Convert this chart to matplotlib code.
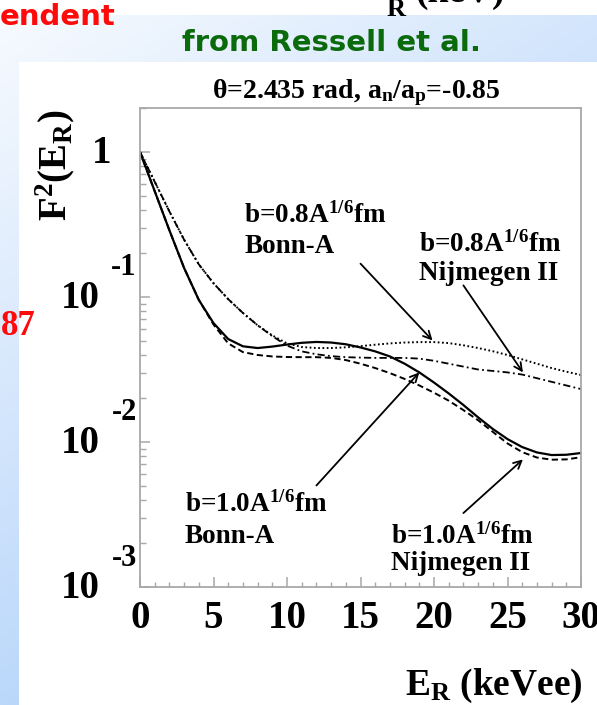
import numpy as np
import matplotlib
matplotlib.use("Agg")
import matplotlib.pyplot as plt
from matplotlib.patches import Rectangle
from matplotlib.transforms import offset_copy

plt.rcParams["font.family"] = ["Liberation Serif", "DejaVu Serif"]
plt.rcParams["font.weight"] = "bold"
plt.rcParams["mathtext.fontset"] = "custom"
plt.rcParams["mathtext.rm"] = "Liberation Serif:bold"
plt.rcParams["mathtext.it"] = "Liberation Serif:bold"
plt.rcParams["mathtext.bf"] = "Liberation Serif:bold"
plt.rcParams["mathtext.default"] = "rm"

# ---- data: log10 of the squared form factor vs recoil energy ----
energy_kevee = list(range(0, 31))
log_f2_b10_bonn = [0, -0.27, -0.54, -0.80, -1.02, -1.18, -1.29, -1.34, -1.352, -1.342,
                   -1.328, -1.316, -1.31, -1.314, -1.326, -1.348, -1.375, -1.41, -1.46, -1.52,
                   -1.59, -1.665, -1.745, -1.83, -1.91, -1.98, -2.035, -2.072, -2.09, -2.088,
                   -2.076]
log_f2_b10_nijm = [0, -0.27, -0.54, -0.80, -1.02, -1.19, -1.32, -1.38, -1.40, -1.41,
                   -1.414, -1.415, -1.415, -1.42, -1.435, -1.46, -1.49, -1.525, -1.565, -1.61,
                   -1.66, -1.715, -1.78, -1.85, -1.93, -2.01, -2.07, -2.107, -2.122, -2.12,
                   -2.105]
log_f2_b08_bonn = [0, -0.205, -0.41, -0.605, -0.775, -0.905, -1.015, -1.11, -1.195, -1.265,
                   -1.32, -1.345, -1.352, -1.352, -1.347, -1.339, -1.329, -1.32, -1.314, -1.311,
                   -1.311, -1.318, -1.333, -1.352, -1.374, -1.40, -1.43, -1.46, -1.49, -1.515,
                   -1.538]
log_f2_b08_nijm = [0, -0.205, -0.41, -0.605, -0.775, -0.905, -1.015, -1.11, -1.195, -1.27,
                   -1.335, -1.375, -1.395, -1.408, -1.415, -1.418, -1.42, -1.42, -1.42, -1.425,
                   -1.44, -1.46, -1.48, -1.50, -1.51, -1.52, -1.535, -1.56, -1.585, -1.61,
                   -1.635]
x_ticks = [0, 5, 10, 15, 20, 25, 30]
y_decades = [0, -1, -2, -3]

W, H = 597, 705
fig = plt.figure(figsize=(W / 100, H / 100), dpi=100)

# ---- slide background in pixel coordinates ----
bg = fig.add_axes([0, 0, 1, 1], zorder=0)
bg.axis("off")
yy, xx = np.mgrid[0:H, 0:W]
t = np.clip(0.08 + 0.45 * xx / W + 0.78 * yy / H, 0, 1)[..., None]
blue = np.array([0.69, 0.82, 0.98])
img = (1 - t) * np.ones(3) + t * blue
bg.imshow(img, extent=(0, W, H, 0), aspect="auto", interpolation="bilinear")
bg.add_patch(Rectangle((0, 0), W, 15, color="white", lw=0))
bg.add_patch(Rectangle((19, 62), W - 19, H - 62, color="white", lw=0))
bg.set_xlim(0, W)
bg.set_ylim(H, 0)

bg.text(0, 25, "endent", color="#ff0a0a", fontsize=21, fontweight="bold",
        family="DejaVu Sans", ha="left", va="baseline")
bg.text(332, 51, "from Ressell et al.", color="#0b6a0b", fontsize=21,
        fontweight="bold", family="DejaVu Sans", ha="center", va="baseline")
bg.text(36, 335, "87", color="#ff0a0a", fontsize=25, fontweight="bold",
        ha="right", va="baseline")
# fragment of a heading above the chart
bg.text(362, 0, "E", color="black", fontsize=27, ha="left", va="baseline")
bg.text(387, 16, "R", color="black", fontsize=19, ha="left", va="baseline")
bg.text(415, 2, "(keV)", color="black", fontsize=27, ha="left", va="baseline")

# axis titles and plot title
bg.text(55, 165, r"F$^{2}$(E$_{\rm R}$)", rotation=90, fontsize=28,
        ha="center", va="center")
bg.text(583, 695, r"E$_{\rm R}$ (keVee)", fontsize=27, ha="right", va="baseline")
bg.text(356, 98, r"$\theta$=2.435 rad, a$_{\rm n}$/a$_{\rm p}$=-0.85", fontsize=20,
        ha="center", va="baseline")

# ---- main axes ----
left, right, top, bottom = 140, 581, 108, 587
ax = fig.add_axes([left / W, 1 - bottom / H, (right - left) / W, (bottom - top) / H],
                  zorder=2)
ax.set_yscale("log")
ax.set_xlim(0, 30)
ax.set_ylim(1e-3, 10 ** 0.3034)

ink = "black"
e = np.array(energy_kevee)
ax.plot(e, 10 ** np.array(log_f2_b10_bonn), color=ink, lw=1.6, ls="-")
ax.plot(e, 10 ** np.array(log_f2_b10_nijm), color=ink, lw=1.4, ls=(0, (3.2, 1.8)))
ax.plot(e, 10 ** np.array(log_f2_b08_bonn), color=ink, lw=1.4, ls=(0, (0.9, 1.3)))
ax.plot(e, 10 ** np.array(log_f2_b08_nijm), color=ink, lw=1.3, ls=(0, (4.0, 1.8, 1.0, 1.8)))

frame = "#a8a8a8"
for s in ["left", "right", "top", "bottom"]:
    ax.spines[s].set_color(frame)
    ax.spines[s].set_linewidth(1.3)

ax.set_xticks(x_ticks)
ax.set_xticks(range(0, 31), minor=True)
ax.tick_params(axis="x", which="major", direction="in", length=7, width=1.1,
               color=frame, labelsize=28, pad=9)
ax.tick_params(axis="x", which="minor", direction="in", length=3.5, width=1.0, color=frame)
ax.set_xticklabels([str(v) for v in x_ticks])
for lab in ax.get_xticklabels():
    lab.set_fontweight("bold")

ax.yaxis.set_major_locator(matplotlib.ticker.LogLocator(base=10, numticks=10))
ax.yaxis.set_minor_locator(matplotlib.ticker.LogLocator(base=10, subs=np.arange(2, 10), numticks=20))
ax.tick_params(axis="y", which="major", direction="in", length=7, width=1.1, color=frame)
ax.tick_params(axis="y", which="minor", direction="in", length=4, width=1.0, color=frame)
ax.yaxis.set_major_formatter(matplotlib.ticker.NullFormatter())
ax.yaxis.set_minor_formatter(matplotlib.ticker.NullFormatter())
ax.tick_params(top=False, right=False, which="both")

# decade labels drawn as "10" with the exponent set above-right
yt = ax.get_yaxis_transform()
for d in y_decades:
    if d == 0:
        ax.text(-0.087, 10 ** d, "1", transform=offset_copy(yt, fig=fig, x=0, y=-2, units="dots"),
                fontsize=28, ha="center", va="center", clip_on=False)
    else:
        ax.text(-0.135, 10 ** d, "10", transform=offset_copy(yt, fig=fig, x=0, y=-2, units="dots"),
                fontsize=28, ha="center", va="center", clip_on=False)
        ax.text(-0.036, 10 ** d, str(d), transform=offset_copy(yt, fig=fig, x=0, y=29, units="dots"),
                fontsize=22, ha="center", va="center", clip_on=False)

# ---- curve annotations ----
labels = [
    (7.1, -0.49, -0.70, r"b=0.8A$^{1/6}$fm", "Bonn-A", (15.0, -0.77), (19.9, -1.30)),
    (19.0, -0.69, -0.885, r"b=0.8A$^{1/6}$fm", "Nijmegen II", (22.0, -0.92), (26.05, -1.52)),
    (3.05, -2.48, -2.70, r"b=1.0A$^{1/6}$fm", "Bonn-A", (12.0, -2.30), (19.0, -1.52)),
    (17.1, -2.70, -2.885, r"b=1.0A$^{1/6}$fm", "Nijmegen II", (22.0, -2.49), (26.05, -2.12)),
]
for x0, y1, y2, l1, l2, start, end in labels:
    ax.text(x0, 10 ** y1, l1, fontsize=19.5, ha="left", va="baseline")
    ax.text(x0, 10 ** y2, l2, fontsize=19.5, ha="left", va="baseline")
    ax.annotate("", xy=(end[0], 10 ** end[1]), xytext=(start[0], 10 ** start[1]),
                arrowprops=dict(arrowstyle="->", color="black", lw=1.3,
                                mutation_scale=14, shrinkA=0, shrinkB=0))

fig.savefig("out.png", dpi=100)
